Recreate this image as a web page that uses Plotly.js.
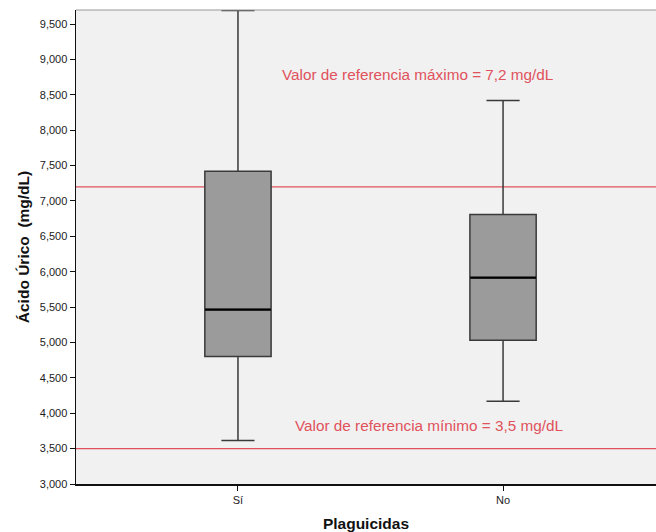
<!DOCTYPE html>
<html><head><meta charset="utf-8">
<script src="https://cdn.plot.ly/plotly-3.0.1.min.js"></script>
<style>body{margin:0;padding:0;background:#fff}#c{width:656px;height:532px}</style>
</head><body><div id="c"></div>
<script>
const categories = ["Sí", "No"];
const lowerWhisker = [3615, 4170];
const q1 = [4800, 5030];
const median = [5465, 5915];
const q3 = [7420, 6810];
const upperWhisker = [9690, 8420];
const refValues = [7200, 3500];
const refLabels = ["Valor de referencia máximo = 7,2 mg/dL", "Valor de referencia mínimo = 3,5 mg/dL"];
const yTickVals = [3000,3500,4000,4500,5000,5500,6000,6500,7000,7500,8000,8500,9000,9500];
const yTickText = ["3,000","3,500","4,000","4,500","5,000","5,500","6,000","6,500","7,000","7,500","8,000","8,500","9,000","9,500"];

const font = "Liberation Sans, Arial, sans-serif";
const red = "#e0525c";

const traces = [{
  type: "box",
  x: categories,
  q1: q1, median: median, q3: q3,
  lowerfence: lowerWhisker, upperfence: upperWhisker,
  width: 0.25,
  whiskerwidth: 0.5,
  fillcolor: "#9b9b9b",
  line: {color: "#3a3a3a", width: 1.5},
  boxpoints: false,
  hoverinfo: "skip",
  showlegend: false
}, {
  type: "scatter",
  mode: "markers",
  x: categories,
  y: median,
  marker: {symbol: "line-ew", size: 47, line: {color: "#000", width: 2.2}},
  hoverinfo: "skip",
  showlegend: false
}];

const shapes = refValues.map(v => ({
  type: "line", xref: "paper", x0: 0, x1: 1, yref: "y", y0: v, y1: v,
  line: {color: red, width: 1.2}, layer: "below"
}));
shapes.push({type:"line", xref:"paper", x0:0, x1:1, yref:"paper", y0:1, y1:1, line:{color:"#999", width:1}});

const annotations = [
  {x: 0.677, y: 8780, text: refLabels[0]},
  {x: 0.72, y: 3830, text: refLabels[1]}
].map(a => Object.assign(a, {xref:"x", yref:"y", showarrow:false, font:{family:font, size:15.3, color:red}}));

const layout = {
  width: 656, height: 532,
  margin: {l: 76, r: 0, t: 10, b: 48},
  paper_bgcolor: "#ffffff",
  plot_bgcolor: "#f1f1f1",
  font: {family: font, size: 11, color: "#222"},
  xaxis: {
    type: "category",
    range: [-0.611, 1.577],
    showgrid: false, zeroline: false,
    showline: true, linecolor: "#111", linewidth: 1.5,
    ticks: "outside", ticklen: 5, tickcolor: "#111",
    tickfont: {family: font, size: 11, color: "#222"},
    title: {text: "<b>Plaguicidas</b>", font: {family: font, size: 15.5, color: "#111"}, standoff: 18}
  },
  yaxis: {
    range: [3000, 9698],
    tickvals: yTickVals, ticktext: yTickText,
    showgrid: false, zeroline: false,
    showline: true, linecolor: "#111", linewidth: 1.5,
    ticks: "outside", ticklen: 5, tickcolor: "#111",
    tickfont: {family: font, size: 11, color: "#222"},
    title: {text: "<b>Ácido Úrico  (mg/dL)</b>", font: {family: font, size: 15.5, color: "#111"}, standoff: 6}
  },
  shapes: shapes,
  annotations: annotations
};

Plotly.newPlot("c", traces, layout, {displayModeBar: false, staticPlot: true});
</script>
</body></html>
